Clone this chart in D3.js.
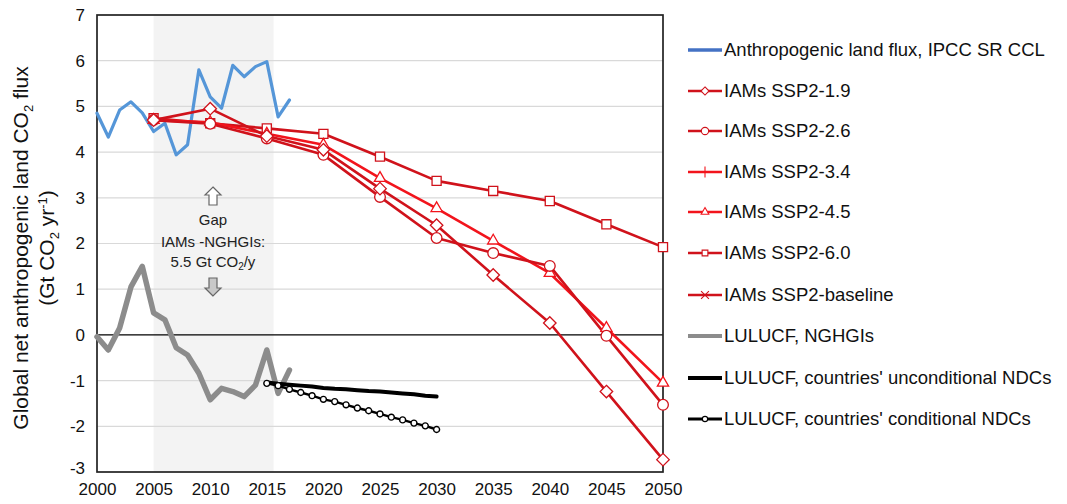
<!DOCTYPE html>
<html>
<head>
<meta charset="utf-8">
<script src="https://cdn.jsdelivr.net/npm/d3@7"></script>
<style>
  body { margin: 0; background: #fff; }
  svg { display: block; font-family: "Liberation Sans", Arial, sans-serif; }
</style>
</head>
<body>
<svg id="chart" width="1067" height="504"></svg>
<script>
// ---- data ----
const histYears = d3.range(2000, 2018)
const landFluxIPCC = [4.85, 4.33, 4.92, 5.1, 4.86, 4.45, 4.63, 3.94, 4.16, 5.8, 5.21, 4.96, 5.9, 5.65, 5.87, 5.98, 4.77, 5.14]
const lulucfNGHGI = [-0.04, -0.33, 0.15, 1.05, 1.5, 0.48, 0.33, -0.28, -0.44, -0.84, -1.42, -1.17, -1.24, -1.35, -1.1, -0.33, -1.28, -0.77]

const iamYears = [2005, 2010, 2015, 2020, 2025, 2030, 2035, 2040, 2045, 2050]
const ssp19 = [4.7, 4.95, 4.35, 4.05, 3.2, 2.4, 1.31, 0.26, -1.24, -2.73]
const ssp26 = [4.7, 4.62, 4.3, 3.94, 3.02, 2.12, 1.79, 1.51, -0.02, -1.53]
const ssp45 = [4.7, 4.65, 4.4, 4.16, 3.43, 2.77, 2.06, 1.35, 0.15, -1.05]
const ssp60 = [4.74, 4.63, 4.52, 4.4, 3.9, 3.37, 3.15, 2.93, 2.42, 1.92]

const ndcYears = d3.range(2015, 2031)
const ndcUnconditional = [-1.04, -1.07, -1.09, -1.11, -1.13, -1.16, -1.18, -1.19, -1.21, -1.23, -1.24, -1.26, -1.28, -1.3, -1.33, -1.35]
const ndcConditional = [-1.06, -1.11, -1.19, -1.26, -1.33, -1.41, -1.46, -1.53, -1.6, -1.66, -1.73, -1.8, -1.86, -1.93, -1.99, -2.07]

const xTicks = [2000, 2005, 2010, 2015, 2020, 2025, 2030, 2035, 2040, 2045, 2050]
const yTicks = [-3, -2, -1, 0, 1, 2, 3, 4, 5, 6, 7]
const gapPeriod = [2005, 2015.6]

const legendLabels = [
    'Anthropogenic land flux, IPCC SR CCL',
    'IAMs SSP2-1.9',
    'IAMs SSP2-2.6',
    'IAMs SSP2-3.4',
    'IAMs SSP2-4.5',
    'IAMs SSP2-6.0',
    'IAMs SSP2-baseline',
    'LULUCF, NGHGIs',
    "LULUCF, countries' unconditional NDCs",
    "LULUCF, countries' conditional NDCs",
]

// ---- layout ----
const plot = { left: 97, right: 663, top: 15, bottom: 472 }
const darkRed = '#d0121b'
const brightRed = '#f2141c'
const blue = '#5596d8'
const grey = '#8c8c8c'

const svg = d3.select('#chart')
const x = d3.scaleLinear().domain([2000, 2050]).range([plot.left, plot.right])
const y = d3.scaleLinear().domain([-3, 7]).range([plot.bottom, plot.top])

// shaded gap period
svg.append('rect')
    .attr('x', x(gapPeriod[0]))
    .attr('y', plot.top)
    .attr('width', x(gapPeriod[1]) - x(gapPeriod[0]))
    .attr('height', plot.bottom - plot.top)
    .attr('fill', '#f3f3f3')

// gridlines
svg.append('g')
    .selectAll('line')
    .data(yTicks.filter(d => d !== 0 && d !== -3 && d !== 7))
    .join('line')
    .attr('x1', plot.left)
    .attr('x2', plot.right)
    .attr('y1', d => y(d))
    .attr('y2', d => y(d))
    .attr('stroke', '#d9d9d9')
    .attr('stroke-width', 1.2)

// zero line
svg.append('line')
    .attr('x1', plot.left).attr('x2', plot.right)
    .attr('y1', y(0)).attr('y2', y(0))
    .attr('stroke', '#000').attr('stroke-width', 1.3)

// frame
svg.append('rect')
    .attr('x', plot.left).attr('y', plot.top)
    .attr('width', plot.right - plot.left)
    .attr('height', plot.bottom - plot.top)
    .attr('fill', 'none')
    .attr('stroke', '#222')
    .attr('stroke-width', 1.7)

// axes (plain hyphen for negatives, as in the original)
const plainFormat = d => String(d)
const yAxis = svg.append('g')
    .attr('transform', `translate(${plot.left},0)`)
    .call(d3.axisLeft(y).tickValues(yTicks).tickFormat(plainFormat).tickSize(0).tickPadding(12))
yAxis.select('.domain').remove()
yAxis.selectAll('text').attr('font-size', 17).attr('fill', '#111')
// the lowest label sits a little above its tick so it clears the year labels
yAxis.selectAll('.tick').filter(d => d === -3).select('text').attr('dy', '0.1em')

const xAxis = svg.append('g')
    .attr('transform', `translate(0,${plot.bottom})`)
    .call(d3.axisBottom(x).tickValues(xTicks).tickFormat(plainFormat).tickSize(0).tickPadding(11))
xAxis.select('.domain').remove()
xAxis.selectAll('text').attr('font-size', 17).attr('fill', '#111')

// y-axis title
const yTitle = svg.append('text')
    .attr('transform', `translate(28,248) rotate(-90)`)
    .attr('text-anchor', 'middle')
    .attr('font-size', 21)
    .attr('fill', '#111')
yTitle.append('tspan').attr('x', 0).attr('y', 0).text('Global net anthropogenic land CO')
yTitle.append('tspan').attr('font-size', 13).attr('dy', 5).text('2')
yTitle.append('tspan').attr('dy', -5).text(' flux')
const yTitle2 = svg.append('text')
    .attr('transform', `translate(54,248) rotate(-90)`)
    .attr('text-anchor', 'middle')
    .attr('font-size', 21)
    .attr('fill', '#111')
yTitle2.append('tspan').text('(Gt CO')
yTitle2.append('tspan').attr('font-size', 13).attr('dy', 5).text('2')
yTitle2.append('tspan').attr('dy', -5).text(' yr')
yTitle2.append('tspan').attr('font-size', 13).attr('dy', -7).text('-1')
yTitle2.append('tspan').attr('dy', 7).text(')')

// gap annotation
const annX = 213
const ann = svg.append('g').attr('fill', '#222').attr('font-size', 15).attr('text-anchor', 'middle')
ann.append('text').attr('x', annX).attr('y', 225).text('Gap')
ann.append('text').attr('x', annX).attr('y', 247).text('IAMs -NGHGIs:')
const annLast = ann.append('text').attr('x', annX).attr('y', 267)
annLast.append('tspan').text('5.5 Gt CO')
annLast.append('tspan').attr('font-size', 10).attr('dy', 3).text('2')
annLast.append('tspan').attr('dy', -3).text('/y')

const arrowUp = 'M0,-9 L8,-1 L4,-1 L4,9 L-4,9 L-4,-1 L-8,-1 Z'
svg.append('path').attr('d', arrowUp)
    .attr('transform', `translate(${annX},196)`)
    .attr('fill', '#fff').attr('stroke', '#666').attr('stroke-width', 1.2)
svg.append('path').attr('d', arrowUp)
    .attr('transform', `translate(${annX},287) rotate(180)`)
    .attr('fill', '#c8c8c8').attr('stroke', '#666').attr('stroke-width', 1.2)

// line helper
const lineGen = d3.line().x(d => x(d[0])).y(d => y(d[1]))
const drawLine = (years, values, color, width) => {
    svg.append('path')
        .datum(d3.zip(years, values))
        .attr('d', lineGen)
        .attr('fill', 'none')
        .attr('stroke', color)
        .attr('stroke-width', width)
        .attr('stroke-linejoin', 'round')
        .attr('stroke-linecap', 'round')
}

const symbols = {
    diamond: d3.symbol().type(d3.symbolDiamond2).size(100),
    circle: d3.symbol().type(d3.symbolCircle).size(90),
    triangle: d3.symbol().type(d3.symbolTriangle2).size(90),
    square: d3.symbol().type(d3.symbolSquare2).size(105),
    plus: d3.symbol().type(d3.symbolCross2 || d3.symbolPlus).size(60),
    cross: d3.symbol().type(d3.symbolTimes || d3.symbolX).size(60),
    smallCircle: d3.symbol().type(d3.symbolCircle).size(28),
}

const drawMarkers = (years, values, shape, stroke, strokeWidth = 1.3) => {
    svg.append('g')
        .selectAll('path')
        .data(d3.zip(years, values))
        .join('path')
        .attr('d', symbols[shape])
        .attr('transform', d => `translate(${x(d[0])},${y(d[1])})`)
        .attr('fill', '#fff')
        .attr('stroke', stroke)
        .attr('stroke-width', strokeWidth)
}

// historical series
drawLine(histYears, landFluxIPCC, blue, 3.2)
drawLine(histYears, lulucfNGHGI, grey, 5.5)

// IAM scenarios
const iamSeries = [
    { values: ssp60, shape: 'square', color: darkRed },
    { values: ssp45, shape: 'triangle', color: brightRed },
    { values: ssp26, shape: 'circle', color: darkRed },
    { values: ssp19, shape: 'diamond', color: darkRed },
]
iamSeries.forEach(s => drawLine(iamYears, s.values, s.color, 2.6))
iamSeries.forEach(s => drawMarkers(iamYears, s.values, s.shape, s.color))

// NDCs
drawLine(ndcYears, ndcUnconditional, '#000', 4)
drawLine(ndcYears, ndcConditional, '#000', 2.4)
drawMarkers(ndcYears, ndcConditional, 'smallCircle', '#000', 1.4)

// ---- legend ----
const legendItems = [
    { color: '#4472c4', width: 3.5 },
    { color: darkRed, width: 2.6, shape: 'diamond' },
    { color: darkRed, width: 2.6, shape: 'circle' },
    { color: brightRed, width: 2.6, shape: 'plus' },
    { color: brightRed, width: 2.6, shape: 'triangle' },
    { color: darkRed, width: 2.6, shape: 'square' },
    { color: darkRed, width: 2.6, shape: 'cross' },
    { color: grey, width: 4 },
    { color: '#000', width: 4 },
    { color: '#000', width: 3, shape: 'smallCircle' },
]
const legendY = [50, 91, 131, 172, 212, 253, 295, 336, 378, 419]
const legend = svg.append('g')
legendItems.forEach((item, i) => {
    const g = legend.append('g').attr('transform', `translate(688,${legendY[i]})`)
    g.append('line')
        .attr('x1', 0).attr('x2', 34)
        .attr('stroke', item.color)
        .attr('stroke-width', item.width)
    if (item.shape) {
        g.append('path')
            .attr('d', d3.symbol().type(symbols[item.shape].type()).size(item.shape === 'smallCircle' ? 22 : 42))
            .attr('transform', 'translate(17,0)')
            .attr('fill', '#fff')
            .attr('stroke', item.color)
            .attr('stroke-width', 1.1)
    }
    g.append('text')
        .attr('x', 36)
        .attr('y', 0)
        .attr('dy', '0.35em')
        .attr('font-size', 18.5)
        .attr('fill', '#111')
        .text(legendLabels[i])
})
</script>
</body>
</html>
